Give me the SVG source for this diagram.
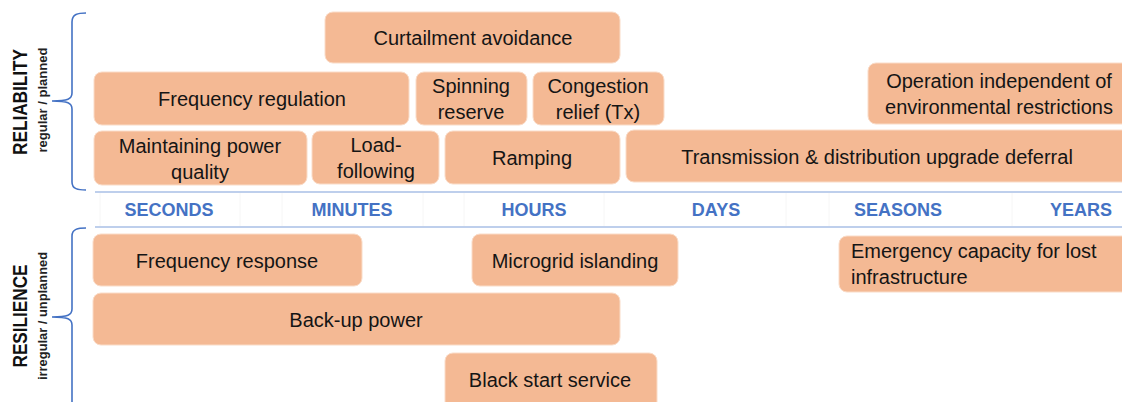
<svg xmlns="http://www.w3.org/2000/svg" width="1122" height="402" viewBox="0 0 1122 402">
<style>
.box{fill:#F4B994;stroke:#FADCC8;stroke-width:1}
.t{font-family:"Liberation Sans",Arial,sans-serif;font-size:20px;fill:#151515;text-anchor:middle;dominant-baseline:central}
.tl{text-anchor:start}
.ax{font-family:"Liberation Sans",Arial,sans-serif;font-size:18px;font-weight:bold;fill:#4472C4;text-anchor:middle;dominant-baseline:central}
.big{font-family:"Liberation Sans",Arial,sans-serif;font-size:20px;font-weight:bold;fill:#111;text-anchor:middle;dominant-baseline:central}
.small{font-family:"Liberation Sans",Arial,sans-serif;font-size:12px;font-weight:bold;fill:#222;text-anchor:middle;dominant-baseline:central}
.brace{fill:none;stroke:#4472C4;stroke-width:1.6}
.hl{stroke:#A9BFE6;stroke-width:1.5}
.vl{stroke:#F6F6F6;stroke-width:1}
</style>
<rect width="1122" height="402" fill="#ffffff"/>
<g id="axis">
<line class="vl" x1="100" y1="193" x2="100" y2="226"/>
<line class="vl" x1="240" y1="193" x2="240" y2="226"/>
<line class="vl" x1="282" y1="193" x2="282" y2="226"/>
<line class="vl" x1="423" y1="193" x2="423" y2="226"/>
<line class="vl" x1="464" y1="193" x2="464" y2="226"/>
<line class="vl" x1="604" y1="193" x2="604" y2="226"/>
<line class="vl" x1="786" y1="193" x2="786" y2="226"/>
<line class="vl" x1="829" y1="193" x2="829" y2="226"/>
<line class="vl" x1="1012" y1="193" x2="1012" y2="226"/>
<line class="hl" x1="95" y1="192" x2="1122" y2="192"/>
<line class="hl" x1="95" y1="227" x2="1122" y2="227"/>
<text class="ax" x="169" y="210">SECONDS</text>
<text class="ax" x="352" y="210">MINUTES</text>
<text class="ax" x="534" y="210">HOURS</text>
<text class="ax" x="716" y="210">DAYS</text>
<text class="ax" x="898" y="210">SEASONS</text>
<text class="ax" x="1081" y="210">YEARS</text>
</g>
<g id="reliability-label">
<path class="brace" d="M86,13 C78,13 72,14 72,22 V93 C72,99 68,101 52,101 C68,101 72,103 72,109 V182 C72,189 78,190 86,190"/>
<text class="big" transform="translate(20,102) rotate(-90)" textLength="106" lengthAdjust="spacingAndGlyphs">RELIABILITY</text>
<text class="small" transform="translate(43,100) rotate(-90)" textLength="105" lengthAdjust="spacingAndGlyphs">regular / planned</text>
</g>
<g id="resilience-label">
<path class="brace" d="M86,228 C78,228 72,229 72,236 V309 C72,315 68,317 52,317 C68,317 72,319 72,325 V402"/>
<text class="big" transform="translate(20,316) rotate(-90)" textLength="103" lengthAdjust="spacingAndGlyphs">RESILIENCE</text>
<text class="small" transform="translate(43,316) rotate(-90)" textLength="128" lengthAdjust="spacingAndGlyphs">irregular / unplanned</text>
</g>
<g id="curtailment"><rect class="box" x="325" y="12" width="295" height="51" rx="8"/><text class="t" x="473" y="38">Curtailment avoidance</text></g>
<g id="freq-reg"><rect class="box" x="94" y="72" width="315" height="53" rx="8"/><text class="t" x="252" y="99">Frequency regulation</text></g>
<g id="spinning"><rect class="box" x="416" y="72" width="111" height="53" rx="8"/><text class="t" x="471" y="86">Spinning</text><text class="t" x="471" y="112">reserve</text></g>
<g id="congestion"><rect class="box" x="533" y="72" width="131" height="53" rx="8"/><text class="t" x="598" y="86">Congestion</text><text class="t" x="598" y="112">relief (Tx)</text></g>
<g id="operation"><rect class="box" x="868" y="63" width="264" height="61" rx="8"/><text class="t" x="999" y="81">Operation independent of</text><text class="t" x="999" y="107">environmental restrictions</text></g>
<g id="power-quality"><rect class="box" x="94" y="131" width="213" height="54" rx="8"/><text class="t" x="200" y="146">Maintaining power</text><text class="t" x="200" y="172">quality</text></g>
<g id="load-following"><rect class="box" x="312" y="131" width="127" height="53" rx="8"/><text class="t" x="376" y="145">Load-</text><text class="t" x="376" y="171">following</text></g>
<g id="ramping"><rect class="box" x="445" y="131" width="175" height="53" rx="8"/><text class="t" x="532" y="158">Ramping</text></g>
<g id="td-deferral"><rect class="box" x="626" y="130" width="506" height="52" rx="8"/><text class="t" x="877" y="157">Transmission &amp; distribution upgrade deferral</text></g>
<g id="freq-response"><rect class="box" x="93" y="234" width="269" height="52" rx="8"/><text class="t" x="227" y="261">Frequency response</text></g>
<g id="microgrid"><rect class="box" x="472" y="234" width="206" height="52" rx="8"/><text class="t" x="575" y="261">Microgrid islanding</text></g>
<g id="emergency"><rect class="box" x="839" y="236" width="293" height="56" rx="8"/><text class="t tl" x="851" y="251">Emergency capacity for lost</text><text class="t tl" x="851" y="277">infrastructure</text></g>
<g id="backup"><rect class="box" x="93" y="293" width="527" height="52" rx="8"/><text class="t" x="356" y="320">Back-up power</text></g>
<g id="black-start"><rect class="box" x="445" y="353" width="212" height="60" rx="8"/><text class="t" x="550" y="380">Black start service</text></g>
<g id="connectors"></g>
</svg>
